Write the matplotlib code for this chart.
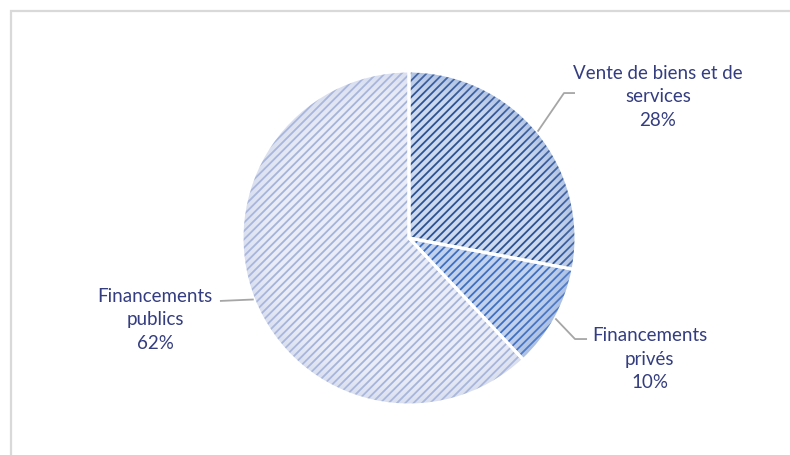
import matplotlib.pyplot as plt
import numpy as np
from matplotlib.patches import Rectangle

labels = ["Vente de biens et de\nservices", "Financements\nprivés", "Financements\npublics"]
values = [28, 10, 62]

face_colors = ["#ccd9ef", "#c2d2ec", "#eaedf7"]
hatch_colors = ["#2c5293", "#3f6fc2", "#a4b3da"]
rim_colors = ["#7f9bd0", "#7d9bd4", "#b9c3e2"]
text_color = "#333d80"

# label centres and leader elbows (data units, pie radius = 1)
label_pos = [(1.49, 0.845), (1.44, -0.725), (-1.52, -0.49)]
elbows = [[(0.928, 0.868), (0.994, 0.868)],
          [(0.994, -0.605), (1.066, -0.605)],
          [(-1.132, -0.377)]]

plt.rcParams["font.family"] = ["Lato", "DejaVu Sans"]
plt.rcParams["hatch.linewidth"] = 1.3

fig = plt.figure(figsize=(7.9, 4.55), dpi=100)
ax = fig.add_axes([0, 0, 1, 1])

# chart frame
fig.patches.append(Rectangle((11 / 790, -0.1), 1.2, (455 - 11) / 455 + 0.1,
                             transform=fig.transFigure, fill=False,
                             edgecolor="#d9d9d9", linewidth=1.6))

wedges, _ = ax.pie(values, startangle=90, counterclock=False, radius=1,
                   colors=face_colors,
                   wedgeprops=dict(linewidth=0))
for w, hc in zip(wedges, hatch_colors):
    w.set_hatch("////")
    w.set_edgecolor(hc)
    w.set_linewidth(0)

# darker rim towards the circumference
yy, xx = np.mgrid[-1:1:400j, -1:1:400j]
rr = np.hypot(xx, yy)
ramp = np.clip((rr - 0.82) / 0.18, 0, 1) ** 1.5 * 0.35
for w, rc in zip(wedges, rim_colors):
    rgb = np.array(plt.matplotlib.colors.to_rgb(rc))
    img = np.zeros((400, 400, 4))
    img[..., :3] = rgb
    img[..., 3] = ramp
    im = ax.imshow(img, extent=[-1, 1, -1, 1], origin="lower",
                   interpolation="bilinear", zorder=2)
    im.set_clip_path(w)

# white separators
sep, _ = ax.pie(values, startangle=90, counterclock=False, radius=1,
                colors=["none"] * 3,
                wedgeprops=dict(edgecolor="white", linewidth=2.2))
for s in sep:
    s.set_zorder(3)

total = sum(values)
start = 90.0
for lab, v, pos, elb in zip(labels, values, label_pos, elbows):
    mid = np.deg2rad(start - v / total * 180)
    start -= v / total * 360
    pts = [(np.cos(mid), np.sin(mid))] + elb
    xs, ys = zip(*pts)
    ax.plot(xs, ys, color="#a6a6a6", linewidth=1.3, zorder=4,
            solid_capstyle="butt")
    ax.text(pos[0], pos[1], f"{lab}\n{v}%", ha="center", va="center",
            color=text_color, fontsize=13.5, linespacing=1.45, zorder=5)

# pie() resets the limits, so set them last: 167 px per unit, centre at (409, 238)
ax.set_aspect("auto")
ax.set_xlim(-409 / 167, (790 - 409) / 167)
ax.set_ylim(-(455 - 238) / 167, 238 / 167)
ax.axis("off")

fig.savefig("out.png", dpi=100)
